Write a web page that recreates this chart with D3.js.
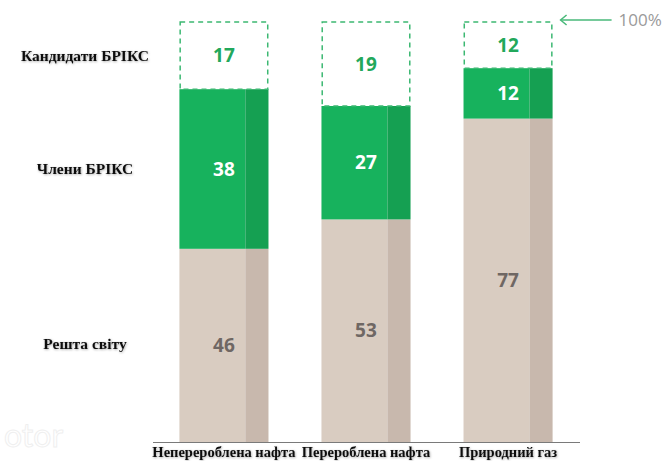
<!DOCTYPE html>
<html>
<head>
<meta charset="utf-8">
<script src="https://cdn.jsdelivr.net/npm/d3@7"></script>
<style>
  body { margin: 0; background: #fff; }
  svg { display: block; }
</style>
</head>
<body>
<svg id="chart" width="669" height="461"></svg>
<script>
// categories along the bottom
var categories = ["Неперероблена нафта", "Перероблена нафта", "Природний газ"];

// shares, % (bottom to top)
var restOfWorld = [46, 53, 77];
var bricsMembers = [38, 27, 12];
var bricsCandidates = [17, 19, 12];

// row labels on the left
var seriesLabels = ["Решта світу", "Члени БРІКС", "Кандидати БРІКС"];

var svg = d3.select("#chart");

// soft shadow used on the serif labels
var defs = svg.append("defs");
defs.append("filter")
    .attr("id", "soft")
    .attr("x", "-10%").attr("y", "-30%")
    .attr("width", "120%").attr("height", "160%")
  .append("feDropShadow")
    .attr("dx", 0.6).attr("dy", 0.8)
    .attr("stdDeviation", 0.8)
    .attr("flood-color", "#000")
    .attr("flood-opacity", 0.35);

var x = d3.scaleBand()
    .domain(categories)
    .range([151, 581])
    .paddingInner(0.373)
    .paddingOuter(0.2);

var y = d3.scaleLinear()
    .domain([0, 100])
    .range([442, 22]);

var stripShare = 0.26; // darker right-hand strip of every bar

var rows = categories.map(function (c, i) {
  return { cat: c, rest: restOfWorld[i], members: bricsMembers[i], cand: bricsCandidates[i] };
});

// faint watermark
svg.append("text")
    .attr("x", 4).attr("y", 447)
    .attr("font-family", "Lato, sans-serif")
    .attr("font-size", 32)
    .attr("fill", "none")
    .attr("stroke", "#efefef")
    .attr("stroke-width", 1)
    .text("otor");

var bar = svg.selectAll("g.bar")
  .data(rows)
  .enter().append("g")
    .attr("class", "bar")
    .attr("transform", function (d) { return "translate(" + x(d.cat) + ",0)"; });

var w = x.bandwidth();
var ws = w * stripShare;

// one stacked segment: light face plus darker right strip
function drawSegment(sel, y0f, y1f, light, dark) {
  sel.append("rect")
      .attr("x", 0)
      .attr("y", function (d) { return y(y1f(d)); })
      .attr("width", w - ws)
      .attr("height", function (d) { return y(y0f(d)) - y(y1f(d)); })
      .attr("fill", light);
  sel.append("rect")
      .attr("x", w - ws)
      .attr("y", function (d) { return y(y1f(d)); })
      .attr("width", ws)
      .attr("height", function (d) { return y(y0f(d)) - y(y1f(d)); })
      .attr("fill", dark);
}

drawSegment(bar, function () { return 0; }, function (d) { return d.rest; }, "#d9ccc1", "#c8b8ad");
drawSegment(bar, function (d) { return d.rest; }, function (d) { return d.rest + d.members; }, "#17b25d", "#15a052");

// candidates: dashed box up to the 100% line
bar.append("rect")
    .attr("x", 0.75)
    .attr("y", y(100))
    .attr("width", w - 1.5)
    .attr("height", function (d) { return y(d.rest + d.members) - y(100); })
    .attr("fill", "none")
    .attr("stroke", "#3cb872")
    .attr("stroke-width", 1.5)
    .attr("stroke-dasharray", "5,4");

// value labels
function valueLabel(mid, val, color) {
  bar.append("text")
      .attr("x", w / 2)
      .attr("y", function (d) { return y(mid(d)); })
      .attr("dy", "0.35em")
      .attr("text-anchor", "middle")
      .attr("font-family", "'Open Sans', sans-serif")
      .attr("font-weight", 700)
      .attr("font-size", 19)
      .attr("fill", color)
      .text(val);
}

valueLabel(function (d) { return d.rest / 2; }, function (d) { return d.rest; }, "#6f6764");
valueLabel(function (d) { return d.rest + d.members / 2; }, function (d) { return d.members; }, "#ffffff");
valueLabel(function (d) { return (d.rest + d.members + 100) / 2; }, function (d) { return d.cand; }, "#22a85b");

// baseline
svg.append("line")
    .attr("x1", 153).attr("x2", 580)
    .attr("y1", y(0) + 0.5).attr("y2", y(0) + 0.5)
    .attr("stroke", "#7a7a7a")
    .attr("stroke-width", 1.2);

// category labels (axis without line/ticks)
var xAxis = d3.axisBottom(x).tickSize(0).tickPadding(5);
var ax = svg.append("g")
    .attr("transform", "translate(0," + y(0) + ")")
    .call(xAxis);
ax.select(".domain").remove();
ax.selectAll("text")
    .attr("font-family", "'Liberation Serif', 'DejaVu Serif', serif")
    .attr("font-weight", 700)
    .attr("font-size", 14.5)
    .attr("fill", "#111")
    .attr("filter", "url(#soft)");

// series labels on the left, centred on the first bar's segments
var first = rows[0];
var labelY = [first.rest / 2 + 0.5, first.rest + first.members / 2, (first.rest + first.members + 100) / 2];
svg.selectAll("text.series")
  .data(seriesLabels)
  .enter().append("text")
    .attr("class", "series")
    .attr("x", 85)
    .attr("y", function (d, i) { return y(labelY[i]); })
    .attr("dy", "0.35em")
    .attr("text-anchor", "middle")
    .attr("font-family", "'Liberation Serif', 'DejaVu Serif', serif")
    .attr("font-weight", 700)
    .attr("font-size", 15.5)
    .attr("fill", "#111")
    .attr("filter", "url(#soft)")
    .text(function (d) { return d; });

// 100% marker
var lastX = x(categories[categories.length - 1]) + w;
svg.append("line")
    .attr("x1", lastX + 8).attr("x2", lastX + 59)
    .attr("y1", y(100) - 2).attr("y2", y(100) - 2)
    .attr("stroke", "#49b97a")
    .attr("stroke-width", 1.5);
svg.append("path")
    .attr("d", "M" + (lastX + 14) + "," + (y(100) - 7) + " L" + (lastX + 8) + "," + (y(100) - 2) + " L" + (lastX + 14) + "," + (y(100) + 3))
    .attr("fill", "none")
    .attr("stroke", "#49b97a")
    .attr("stroke-width", 1.5);
svg.append("text")
    .attr("x", lastX + 66)
    .attr("y", y(100) - 2)
    .attr("dy", "0.35em")
    .attr("font-family", "'Open Sans', sans-serif")
    .attr("font-size", 17)
    .attr("fill", "#9a9a9a")
    .text("100%");
</script>
</body>
</html>
